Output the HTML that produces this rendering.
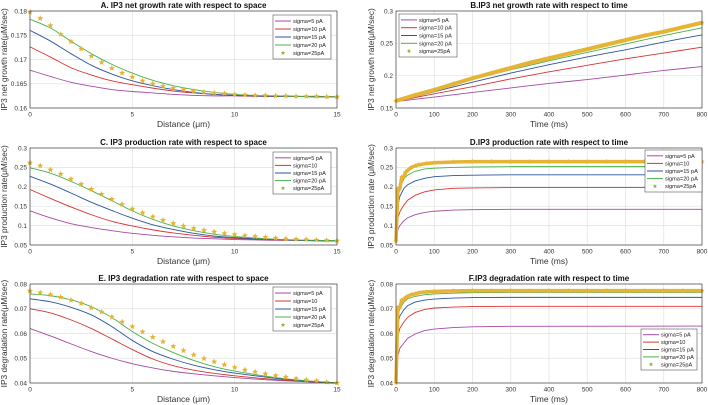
<!DOCTYPE html>
<html><head><meta charset="utf-8">
<style>
html,body{margin:0;padding:0;background:#fff;}
svg{display:block;font-family:"Liberation Sans",Arial,sans-serif;}
</style></head>
<body>
<svg id="chart" width="708" height="405" viewBox="0 0 708 405" xmlns="http://www.w3.org/2000/svg"></svg>
<script>
// ---------- DATA ----------
const seriesNames = ["sigma=5 pA","sigma=10 pA","sigma=15 pA","sigma=20 pA","sigma=25pA"];
const seriesNamesAlt = ["sigma=5 pA","sigma=10","sigma=15 pA","sigma=20 pA","sigma=25pA"];
const spaceX = [0,1,2,3,4,5,6,7,8,9,10,11,12,13,14,15];
const spaceStarX = [0,0.5,1,1.5,2,2.5,3,3.5,4,4.5,5,5.5,6,6.5,7,7.5,8,8.5,9,9.5,10,10.5,11,11.5,12,12.5,13,13.5,14,14.5,15];
// Panel A
const aS5 = [0.1678,0.1665,0.1653,0.1645,0.1638,0.1634,0.1631,0.1628,0.1626,0.1625,0.1625,0.1624,0.1624,0.1624,0.1624,0.1623];
const aS10 = [0.1726,0.1705,0.1683,0.1668,0.1656,0.1648,0.1641,0.1635,0.1631,0.1628,0.1626,0.1625,0.1624,0.1624,0.1623,0.1623];
const aS15 = [0.1760,0.1738,0.1712,0.1688,0.1670,0.1656,0.1646,0.1638,0.1632,0.1628,0.1626,0.1625,0.1624,0.1624,0.1623,0.1623];
const aS20 = [0.1783,0.1765,0.1738,0.1712,0.1690,0.1672,0.1657,0.1646,0.1638,0.1632,0.1628,0.1626,0.1625,0.1624,0.1623,0.1623];
const aS25 = [0.1798,0.1785,0.1770,0.1752,0.1737,0.1722,0.1707,0.1694,0.1682,0.1672,0.1664,0.1656,0.1650,0.1645,0.1641,0.1638,0.1635,0.1633,0.1631,0.1630,0.1628,0.1627,0.1626,0.1626,0.1625,0.1625,0.1624,0.1624,0.1624,0.1623,0.1623];
// Panel C
const cS5 = [0.138,0.120,0.105,0.095,0.087,0.080,0.075,0.071,0.068,0.066,0.064,0.063,0.062,0.062,0.061,0.061];
const cS10 = [0.193,0.170,0.148,0.128,0.111,0.099,0.089,0.081,0.075,0.070,0.067,0.065,0.063,0.062,0.061,0.061];
const cS15 = [0.227,0.207,0.184,0.160,0.139,0.119,0.102,0.090,0.080,0.073,0.069,0.066,0.064,0.062,0.061,0.061];
const cS20 = [0.249,0.235,0.214,0.190,0.164,0.138,0.116,0.099,0.087,0.078,0.072,0.068,0.065,0.063,0.062,0.061];
const cS25 = [0.262,0.254,0.244,0.233,0.220,0.207,0.194,0.181,0.168,0.155,0.143,0.133,0.123,0.114,0.106,0.099,0.093,0.088,0.084,0.080,0.077,0.074,0.072,0.070,0.068,0.066,0.065,0.064,0.063,0.062,0.061];
// Panel E
const eS5 = [0.062,0.059,0.0558,0.0527,0.050,0.0478,0.0461,0.0447,0.0437,0.0429,0.0422,0.0416,0.0411,0.0407,0.0403,0.040];
const eS10 = [0.070,0.0683,0.0655,0.062,0.0578,0.0535,0.0497,0.0470,0.0452,0.0439,0.0429,0.0421,0.0414,0.0409,0.0404,0.040];
const eS15 = [0.074,0.0728,0.0706,0.0675,0.0628,0.0572,0.0527,0.0496,0.0472,0.0454,0.0440,0.0429,0.0419,0.0411,0.0405,0.040];
const eS20 = [0.076,0.0753,0.0736,0.0708,0.0664,0.0608,0.0560,0.0523,0.0491,0.0466,0.0448,0.0434,0.0422,0.0413,0.0406,0.040];
const eS25 = [0.0772,0.0765,0.0757,0.0747,0.0735,0.0722,0.0704,0.0687,0.0667,0.0647,0.0628,0.0607,0.0585,0.0567,0.0548,0.0531,0.0514,0.0499,0.0486,0.0474,0.0463,0.0453,0.0445,0.0437,0.0430,0.0424,0.0418,0.0413,0.0409,0.0404,0.0400];
// Panel B
const bX = [0,100,200,300,400,500,600,700,800];
const bS5 = [0.160,0.167,0.174,0.181,0.188,0.194,0.201,0.208,0.214];
const bS10 = [0.160,0.172,0.183,0.195,0.206,0.216,0.226,0.235,0.244];
const bS15 = [0.160,0.175,0.190,0.204,0.217,0.229,0.240,0.252,0.263];
const bS20 = [0.160,0.177,0.194,0.209,0.223,0.236,0.249,0.262,0.274];
const bStarX = [0,50,100,150,200,250,300,350,400,450,500,550,600,650,700,750,800];
const bS25 = [0.161,0.170,0.178,0.187,0.196,0.204,0.212,0.220,0.227,0.234,0.241,0.248,0.255,0.262,0.268,0.275,0.282];
// Panel D
const tX = [0,5,10,20,30,50,75,100,150,200,300,800];
const dS5 = [0.06,0.09,0.100,0.112,0.120,0.128,0.134,0.137,0.140,0.141,0.142,0.142];
const dS10 = [0.06,0.120,0.135,0.152,0.165,0.178,0.187,0.192,0.196,0.197,0.198,0.198];
const dS15 = [0.06,0.15,0.175,0.195,0.205,0.215,0.222,0.226,0.229,0.230,0.231,0.231];
const dS20 = [0.06,0.17,0.195,0.22,0.230,0.240,0.246,0.248,0.250,0.251,0.252,0.252];
const tStarX = [0,5,10,15,20,25,30,40,50,60,80,100,150,200,250,300,350,400,450,500,550,600,650,700,750,800];
const dS25 = [0.06,0.195,0.195,0.225,0.225,0.237,0.242,0.250,0.254,0.257,0.260,0.262,0.264,0.265,0.265,0.265,0.265,0.265,0.265,0.265,0.265,0.265,0.265,0.265,0.265,0.265];
// Panel F
const fS5 = [0.040,0.051,0.054,0.056,0.058,0.0598,0.0612,0.0618,0.0624,0.0627,0.0629,0.063];
const fS10 = [0.040,0.059,0.062,0.0645,0.0665,0.0685,0.0697,0.0703,0.0707,0.0709,0.071,0.071];
const fS15 = [0.040,0.064,0.067,0.0695,0.0712,0.0727,0.0735,0.0739,0.0743,0.0745,0.0746,0.0746];
const fS20 = [0.040,0.067,0.070,0.0725,0.074,0.075,0.0757,0.076,0.0763,0.0765,0.0766,0.0766];
const fS25 = [0.040,0.0705,0.0705,0.0735,0.0738,0.0745,0.075,0.0757,0.076,0.0765,0.0768,0.077,0.0772,0.0773,0.0773,0.0773,0.0773,0.0773,0.0773,0.0773,0.0773,0.0773,0.0773,0.0773,0.0773,0.0773];
// Ticks
const spaceTicks = [0,5,10,15];
const spaceTickLabels = ["0","5","10","15"];
const timeTicks = [0,100,200,300,400,500,600,700,800];
const timeTickLabels = ["0","100","200","300","400","500","600","700","800"];
const aYTicks = [0.16,0.165,0.17,0.175,0.18];
const aYLabels = ["0.16","0.165","0.17","0.175","0.18"];
const bYTicks = [0.15,0.2,0.25,0.3];
const bYLabels = ["0.15","0.2","0.25","0.3"];
const cdYTicks = [0.05,0.1,0.15,0.2,0.25,0.3];
const cdYLabels = ["0.05","0.1","0.15","0.2","0.25","0.3"];
const efYTicks = [0.04,0.05,0.06,0.07,0.08];
const efYLabels = ["0.04","0.05","0.06","0.07","0.08"];

// ---------- DRAWING ----------
const NS = "http://www.w3.org/2000/svg";
const svg = document.getElementById("chart");
const COLORS = ["#a54aa5","#d83434","#2a55a0","#48b048","#e6b434"];
function mk(tag, parent){ const e=document.createElementNS(NS,tag); parent.appendChild(e); return e; }
function starPts(cx,cy,r){
  let p=[];
  for(let i=0;i<10;i++){const a=-Math.PI/2+i*Math.PI/5;const rr=i%2?r*0.45:r;p.push((cx+rr*Math.cos(a)).toFixed(2)+","+(cy+rr*Math.sin(a)).toFixed(2));}
  return p.join(" ");
}
function smoothPath(pts){
  let d="M"+pts[0][0].toFixed(2)+","+pts[0][1].toFixed(2);
  for(let i=0;i<pts.length-1;i++){
    const p0=pts[Math.max(0,i-1)],p1=pts[i],p2=pts[i+1],p3=pts[Math.min(pts.length-1,i+2)];
    const c1x=p1[0]+(p2[0]-p0[0])/6, c1y=p1[1]+(p2[1]-p0[1])/6;
    const c2x=p2[0]-(p3[0]-p1[0])/6, c2y=p2[1]-(p3[1]-p1[1])/6;
    d+=" C"+c1x.toFixed(2)+","+c1y.toFixed(2)+" "+c2x.toFixed(2)+","+c2y.toFixed(2)+" "+p2[0].toFixed(2)+","+p2[1].toFixed(2);
  }
  return d;
}

function panel(cfg){
  const g = mk("g", svg);
  
  
  const xs = v => cfg.L + (v-cfg.xmin)/(cfg.xmax-cfg.xmin)*(cfg.R-cfg.L);
  const ys = v => cfg.B - (v-cfg.ymin)/(cfg.ymax-cfg.ymin)*(cfg.B-cfg.T);
  const bg = mk("rect", g);
  
  
  bg.setAttribute("x",cfg.L);bg.setAttribute("y",cfg.T);bg.setAttribute("width",cfg.R-cfg.L);bg.setAttribute("height",cfg.B-cfg.T);bg.setAttribute("fill","#fff");
  cfg.xt.forEach((t,i)=>{
    const x=xs(t);
    const gl=mk("line",g);
    
    
    gl.setAttribute("x1",x);gl.setAttribute("x2",x);gl.setAttribute("y1",cfg.T);gl.setAttribute("y2",cfg.B);gl.setAttribute("stroke","#e2e2e2");gl.setAttribute("stroke-width","0.7");
    const tl=mk("text",g);
    
    
    tl.setAttribute("x",x);tl.setAttribute("y",cfg.B+8.5);tl.setAttribute("font-size","6.5");tl.setAttribute("text-anchor","middle");tl.setAttribute("fill","#333");
    tl.textContent=cfg.xl[i];
  });
  cfg.yt.forEach((t,i)=>{
    const y=ys(t);
    const gl=mk("line",g);
    
    
    gl.setAttribute("x1",cfg.L);gl.setAttribute("x2",cfg.R);gl.setAttribute("y1",y);gl.setAttribute("y2",y);gl.setAttribute("stroke","#e2e2e2");gl.setAttribute("stroke-width","0.7");
    const tl=mk("text",g);
    
    
    tl.setAttribute("x",cfg.L-3);tl.setAttribute("y",y+2.3);tl.setAttribute("font-size","6.5");tl.setAttribute("text-anchor","end");tl.setAttribute("fill","#333");
    tl.textContent=cfg.yl[i];
  });
  cfg.lines.forEach((s,k)=>{
    const pts=s.map((v,i)=>[xs(cfg.lx[i]),ys(v)]);
    const pl=mk("path",g);
    
    
    pl.setAttribute("d", cfg.smooth ? smoothPath(pts) : "M"+pts.map(p=>p[0].toFixed(2)+","+p[1].toFixed(2)).join(" L"));
    pl.setAttribute("fill","none");pl.setAttribute("stroke",COLORS[k]);pl.setAttribute("stroke-width","0.9");
  });
  if(cfg.band){
    const pl=mk("polyline",g);
    
    
    pl.setAttribute("points", cfg.stars.map((v,i)=>xs(cfg.sx[i]).toFixed(2)+","+ys(v).toFixed(2)).join(" "));
    pl.setAttribute("fill","none");pl.setAttribute("stroke",COLORS[4]);pl.setAttribute("stroke-width",cfg.band);pl.setAttribute("stroke-linejoin","round");
  }
  cfg.stars.forEach((v,i)=>{
    const st=mk("polygon",g);
    
    
    st.setAttribute("points", starPts(xs(cfg.sx[i]),ys(v),cfg.sr||3.2));
    st.setAttribute("fill",COLORS[4]);
  });
  const fr=mk("rect",g);
  
  
  fr.setAttribute("x",cfg.L);fr.setAttribute("y",cfg.T);fr.setAttribute("width",cfg.R-cfg.L);fr.setAttribute("height",cfg.B-cfg.T);fr.setAttribute("fill","none");fr.setAttribute("stroke","#262626");fr.setAttribute("stroke-width","0.6");
  const ti=mk("text",g);
  
  
  ti.setAttribute("x",(cfg.L+cfg.R)/2);ti.setAttribute("y",cfg.T-3);ti.setAttribute("font-size","8");ti.setAttribute("font-weight","bold");ti.setAttribute("text-anchor","middle");ti.setAttribute("fill","#111");
  ti.textContent=cfg.title;
  const xl=mk("text",g);
  
  
  xl.setAttribute("x",(cfg.L+cfg.R)/2);xl.setAttribute("y",cfg.B+19);xl.setAttribute("font-size","8.5");xl.setAttribute("text-anchor","middle");xl.setAttribute("fill","#333");
  xl.textContent=cfg.xlabel;
  const yl=mk("text",g);
  
  
  const yc=(cfg.T+cfg.B)/2;
  yl.setAttribute("transform","translate("+cfg.ylx+","+yc+") rotate(-90)");
  yl.setAttribute("font-size","8.3");yl.setAttribute("text-anchor","middle");yl.setAttribute("fill","#333");
  yl.textContent=cfg.ylabel;
  const lg=mk("g",g);
  
  
  const lb=mk("rect",lg);
  
  
  lb.setAttribute("x",cfg.lgx);lb.setAttribute("y",cfg.lgy);lb.setAttribute("width",cfg.lgw);lb.setAttribute("height",cfg.lgh);lb.setAttribute("fill","#fff");lb.setAttribute("stroke","#333");lb.setAttribute("stroke-width","0.5");
  const rowH=(cfg.lgh-4)/5;
  cfg.names.forEach((n,k)=>{
    const y=cfg.lgy+2+rowH*(k+0.5);
    if(k<4){
      const ln=mk("line",lg);
      
      
      ln.setAttribute("x1",cfg.lgx+2);ln.setAttribute("x2",cfg.lgx+18);ln.setAttribute("y1",y);ln.setAttribute("y2",y);ln.setAttribute("stroke",COLORS[k]);ln.setAttribute("stroke-width","1");
    } else {
      const st=mk("polygon",lg);
      
      
      st.setAttribute("points",starPts(cfg.lgx+10,y,2.3));st.setAttribute("fill","#8db33a");
    }
    const tx=mk("text",lg);
    
    
    tx.setAttribute("x",cfg.lgx+20);tx.setAttribute("y",y+2);tx.setAttribute("font-size","5.6");tx.setAttribute("fill","#222");
    tx.textContent=n;
  });
}

panel({id:"panel-a",L:30,R:337,T:11,B:108,xmin:0,xmax:15,ymin:0.16,ymax:0.18,xt:spaceTicks,xl:spaceTickLabels,yt:aYTicks,yl:aYLabels,
  lines:[aS5,aS10,aS15,aS20],lx:spaceX,stars:aS25,sx:spaceStarX,smooth:true,
  title:"A. IP3 net growth rate with respect to space",xlabel:"Distance (\u03bcm)",ylabel:"IP3 net growth rate(\u03bcM/sec)",ylx:7,
  lgx:273,lgy:15,lgw:58,lgh:44,names:seriesNames});
panel({id:"panel-b",L:396,R:702,T:11,B:108,xmin:0,xmax:800,ymin:0.15,ymax:0.3,xt:timeTicks,xl:timeTickLabels,yt:bYTicks,yl:bYLabels,
  lines:[bS5,bS10,bS15,bS20],lx:bX,stars:bS25,sx:bStarX,band:4,sr:2.8,smooth:true,
  title:"B.IP3 net growth rate with respect to time",xlabel:"Time (ms)",ylabel:"IP3 net growth rate(\u03bcM/sec)",ylx:374,
  lgx:399,lgy:14,lgw:58,lgh:43,names:seriesNames});
panel({id:"panel-c",L:30,R:337,T:148,B:245,xmin:0,xmax:15,ymin:0.05,ymax:0.3,xt:spaceTicks,xl:spaceTickLabels,yt:cdYTicks,yl:cdYLabels,
  lines:[cS5,cS10,cS15,cS20],lx:spaceX,stars:cS25,sx:spaceStarX,smooth:true,
  title:"C. IP3 production rate with respect to space",xlabel:"Distance (\u03bcm)",ylabel:"IP3 production rate(\u03bcM/sec)",ylx:7,
  lgx:273,lgy:152,lgw:58,lgh:42,names:seriesNamesAlt});
panel({id:"panel-d",L:396,R:702,T:148,B:245,xmin:0,xmax:800,ymin:0.05,ymax:0.3,xt:timeTicks,xl:timeTickLabels,yt:cdYTicks,yl:cdYLabels,
  lines:[dS5,dS10,dS15,dS20],lx:tX,stars:dS25,sx:tStarX,band:3.5,sr:2.8,
  title:"D.IP3 production rate with respect to time",xlabel:"Time (ms)",ylabel:"IP3 production rate (\u03bcM/sec)",ylx:374,
  lgx:645,lgy:150,lgw:57,lgh:42,names:seriesNamesAlt});
panel({id:"panel-e",L:30,R:337,T:284,B:383,xmin:0,xmax:15,ymin:0.04,ymax:0.08,xt:spaceTicks,xl:spaceTickLabels,yt:efYTicks,yl:efYLabels,
  lines:[eS5,eS10,eS15,eS20],lx:spaceX,stars:eS25,sx:spaceStarX,smooth:true,
  title:"E. IP3 degradation rate with respect to space",xlabel:"Distance (\u03bcm)",ylabel:"IP3 degradation rate(\u03bcM/sec)",ylx:7,
  lgx:273,lgy:287,lgw:58,lgh:44,names:seriesNamesAlt});
panel({id:"panel-f",L:396,R:702,T:284,B:383,xmin:0,xmax:800,ymin:0.04,ymax:0.08,xt:timeTicks,xl:timeTickLabels,yt:efYTicks,yl:efYLabels,
  lines:[fS5,fS10,fS15,fS20],lx:tX,stars:fS25,sx:tStarX,band:3.5,sr:2.8,
  title:"F.IP3 degradation rate with respect to time",xlabel:"Time (ms)",ylabel:"IP3 degradation rate(\u03bcM/sec)",ylx:374,
  lgx:641,lgy:329,lgw:56,lgh:41,names:seriesNamesAlt});
</script>
</body></html>
